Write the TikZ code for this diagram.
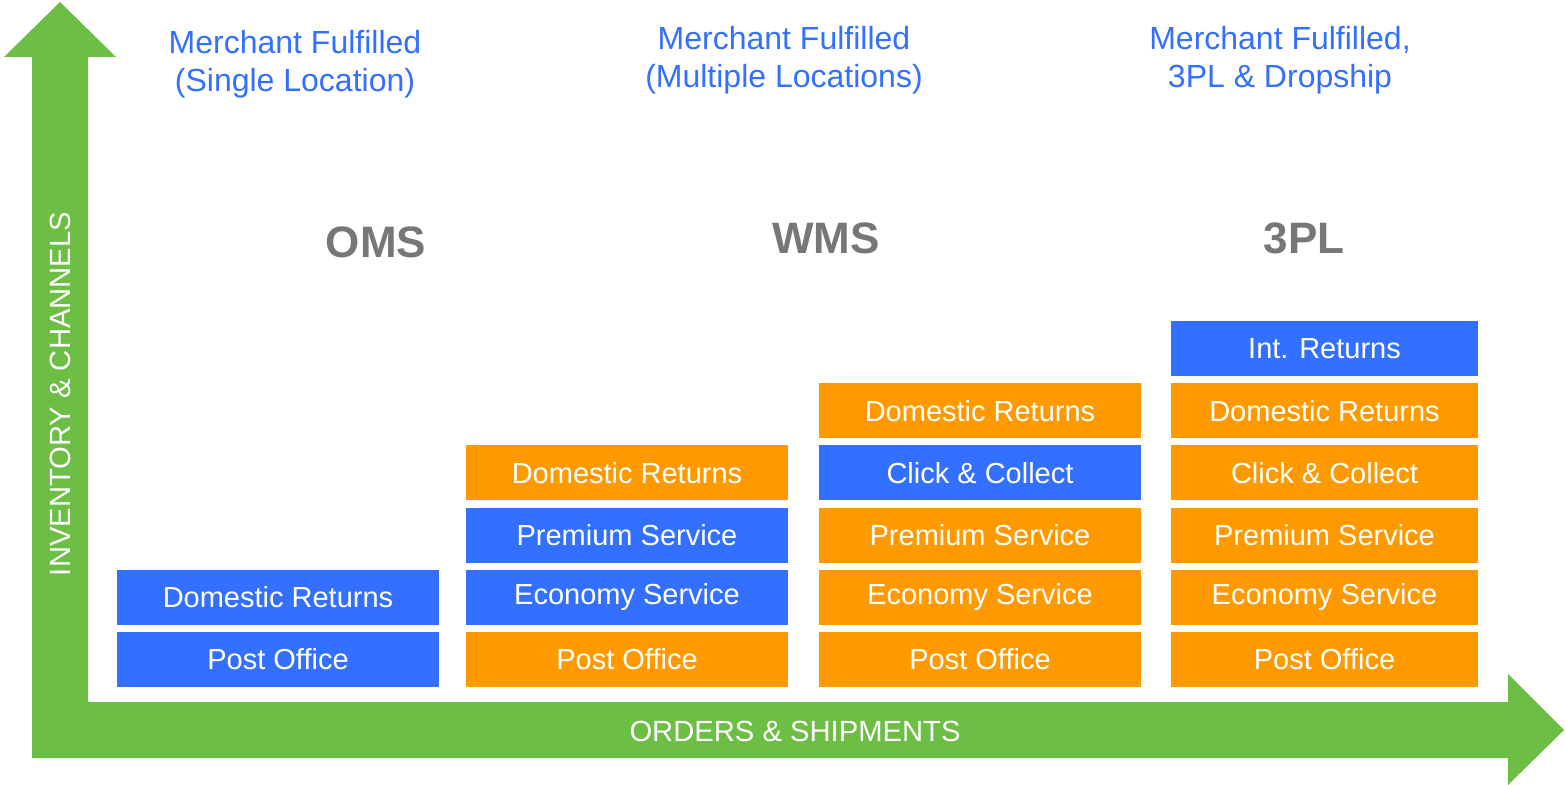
\documentclass[tikz,border=0pt]{standalone}
\usepackage{fontspec}
\setmainfont{Liberation Sans}
\usetikzlibrary{positioning}
\definecolor{arrowgreen}{HTML}{6DBE45}
\definecolor{boxblue}{HTML}{3370FF}
\definecolor{boxorange}{HTML}{FF9900}
\definecolor{labelgray}{HTML}{777777}
\tikzset{
	box/.style={minimum width=161pt, minimum height=27.5pt, inner sep=0pt, outer sep=0pt, text=white, font=\fontsize{14.5}{17}\selectfont},
	bluebox/.style={box, fill=boxblue},
	orangebox/.style={box, fill=boxorange},
	heading/.style={text=boxblue, align=center, font=\fontsize{16}{19}\selectfont},
	system/.style={text=labelgray, font=\bfseries\fontsize{22}{26}\selectfont},
	axislabel/.style={text=white, font=\fontsize{14.6}{17}\selectfont}
}

\begin{document}
\begin{tikzpicture}[x=0.5pt, y=-0.5pt]
			%%%%% START %%%%%
			\useasboundingbox (0, 0) rectangle (1566, 785);
			
			% axes
			\draw[draw=none, fill=arrowgreen] (32, 758) -- (32, 57) -- (4, 57) -- (60, 2) -- (116, 57) -- (88, 57) -- (88, 702)
				-- (1508, 702) -- (1508, 674) -- (1564, 730) -- (1508, 785) -- (1508, 758) -- cycle;
			\node[axislabel, rotate=90] (yaxis) at (60, 394) {INVENTORY \& CHANNELS};
			\node[axislabel] (xaxis) at (795, 731) {ORDERS \& SHIPMENTS};
			
			% headings
			\node[heading] (singlehead) at (295, 64) {Merchant Fulfilled\\(Single Location)};
			\node[heading] (multihead) at (784, 60) {Merchant Fulfilled\\(Multiple Locations)};
			\node[heading] (dropshiphead) at (1280, 60) {Merchant Fulfilled,\\3PL \& Dropship};
			
			\node[system] (oms) at (376, 242) {OMS};
			\node[system] (wms) at (826, 238) {WMS};
			\node[system] (tpl) at (1304, 238) {3PL};
			
			% OMS
			\node[bluebox] (omspost) at (278, 659.5) {Post Office};
			\node[bluebox, above=3.6pt of omspost] (omsdom) {Domestic Returns};
			
			% WMS, multiple locations
			\node[orangebox] (multipost) at (627, 659.5) {Post Office};
			\node[bluebox, above=3.6pt of multipost] (multieco) {Economy Service};
			\node[bluebox, above=3.6pt of multieco] (multiprem) {Premium Service};
			\node[orangebox, above=3.6pt of multiprem] (multidom) {Domestic Returns};
			
			% WMS
			\node[orangebox] (wmspost) at (980, 659.5) {Post Office};
			\node[orangebox, above=3.6pt of wmspost] (wmseco) {Economy Service};
			\node[orangebox, above=3.6pt of wmseco] (wmsprem) {Premium Service};
			\node[bluebox, above=3.6pt of wmsprem] (wmsclick) {Click \& Collect};
			\node[orangebox, above=3.6pt of wmsclick] (wmsdom) {Domestic Returns};
			
			% 3PL
			\node[orangebox, minimum width=153.5pt] (tplpost) at (1324.5, 659.5) {Post Office};
			\node[orangebox, minimum width=153.5pt, above=3.6pt of tplpost] (tpleco) {Economy Service};
			\node[orangebox, minimum width=153.5pt, above=3.6pt of tpleco] (tplprem) {Premium Service};
			\node[orangebox, minimum width=153.5pt, above=3.6pt of tplprem] (tplclick) {Click \& Collect};
			\node[orangebox, minimum width=153.5pt, above=3.6pt of tplclick] (tpldom) {Domestic Returns};
			\node[bluebox, minimum width=153.5pt, above=3.6pt of tpldom] (tplint) {Int. Returns};
			
			%%%%% END %%%%%
		\end{tikzpicture}
\end{document}
